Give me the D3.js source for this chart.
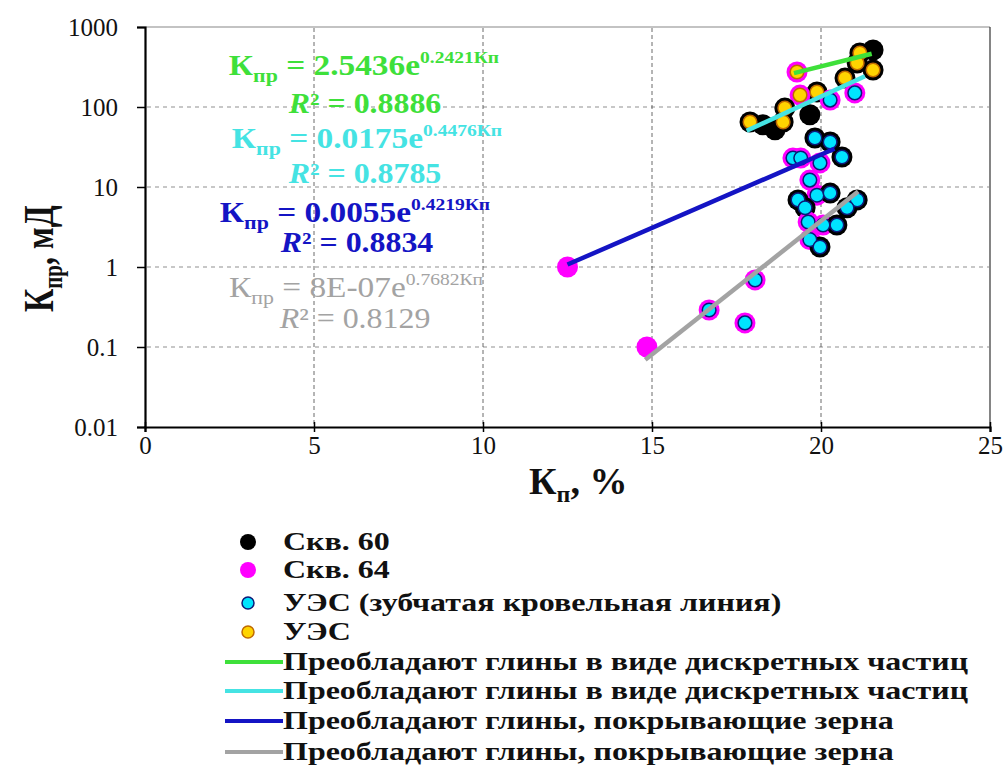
<!DOCTYPE html>
<html>
<head>
<meta charset="utf-8">
<script src="https://cdn.jsdelivr.net/npm/d3@7"></script>
<style>
  body { margin: 0; background: #fff; }
  svg { display: block; }
  text { font-family: "Liberation Serif", "Times New Roman", serif; }
</style>
</head>
<body>
<div id="app"></div>
<script>
// samples: porosity, permeability, well, UES type
const kp = [19.29, 21.54, 21.15, 21.07, 21.54, 20.71, 21.0, 19.88, 20.27, 19.38, 18.93, 19.67, 17.9, 18.28, 18.64, 18.88,
  19.82, 20.27, 20.62, 19.17, 19.4, 19.97, 19.67, 19.88, 19.32, 20.27, 21.07, 20.77, 19.53, 19.62, 20.06, 20.47, 19.67, 19.97,
  12.5, 14.85, 16.69, 17.75, 18.05];
const kpr = [274, 516, 473, 355, 290, 230, 150, 154, 122, 141, 97, 80, 65, 60, 52, 65,
  41, 36.5, 23.7, 23, 23, 20, 12.2, 7.9, 6.9, 8.4, 6.9, 5.5, 5.5, 3.65, 3.35, 3.35, 2.2, 1.78,
  1.0, 0.1, 0.29, 0.2, 0.69];
const well = [64, 60, 60, 60, 60, 60, 64, 60, 64, 64, 60, 60, 60, 60, 60, 60,
  60, 60, 60, 64, 64, 64, 64, 64, 60, 60, 60, 60, 60, 64, 64, 60, 64, 60,
  64, 64, 64, 64, 64];
const ues = ["y", "", "y", "y", "y", "y", "c", "y", "c", "y", "y", "", "y", "", "", "y",
  "c", "c", "c", "c", "c", "c", "c", "c", "c", "c", "c", "c", "c", "c", "c", "c", "c", "c",
  "", "", "c", "c", "c"];

// trend lines  Kpr = a * exp(b * Kp)
const trendA = [2.5436, 0.0175, 0.0055, 8e-7];
const trendB = [0.2421, 0.4476, 0.4219, 0.7682];
const trendFrom = [19.2, 17.8, 12.5, 14.8];
const trendTo = [21.5, 21.3, 20.4, 21.1];
const trendAText = ["2.5436", "0.0175", "0.0055", "8E-07"];
const trendBText = ["0.2421", "0.4476", "0.4219", "0.7682"];
const trendR2 = ["0.8886", "0.8785", "0.8834", "0.8129"];

const xTicks = [0, 5, 10, 15, 20, 25];
const yTicks = [0.01, 0.1, 1, 10, 100, 1000];
const legendPoints = ["Скв. 60", "Скв. 64", "УЭС (зубчатая кровельная линия)", "УЭС"];
const legendLines = [
  "Преобладают глины в виде дискретных частиц",
  "Преобладают глины в виде дискретных частиц",
  "Преобладают глины, покрывающие зерна",
  "Преобладают глины, покрывающие зерна"
];

const trendColors = ["#3ee03a", "#45e3e3", "#1414c4", "#a3a3a3"];
const wellColors = { 60: "#000", 64: "#ff00ff" };
const uesFill = { c: "#00e4ff", y: "#ffd400" };
const uesStroke = { c: "#0c1a78", y: "#c06a00" };

const W = 1005, H = 772;
const svg = d3.select("#app").append("svg").attr("width", W).attr("height", H);
svg.append("rect").attr("width", W).attr("height", H).attr("fill", "#fff");

const x = d3.scaleLinear().domain([0, 25]).range([145, 990]);
const y = d3.scaleLog().domain([0.01, 1000]).range([427, 27]);

// grid
svg.append("g").selectAll("line").data(yTicks.slice(1, 5)).join("line")
  .attr("x1", 147).attr("x2", 989).attr("y1", y).attr("y2", y)
  .attr("stroke", "#b5b5b5").attr("stroke-width", 1.6).attr("stroke-dasharray", "4,4");
svg.append("g").selectAll("line").data(xTicks.slice(1, 5)).join("line")
  .attr("x1", x).attr("x2", x).attr("y1", 28).attr("y2", 426)
  .attr("stroke", "#444").attr("stroke-width", 0.8).attr("stroke-dasharray", "4,3");

// frame top / right
svg.append("line").attr("x1", 145).attr("x2", 990).attr("y1", 27).attr("y2", 27)
  .attr("stroke", "#888").attr("stroke-width", 1.2);
svg.append("line").attr("x1", 990).attr("x2", 990).attr("y1", 27).attr("y2", 427)
  .attr("stroke", "#333").attr("stroke-width", 1.2);

// axes
const yAxis = svg.append("g").attr("transform", "translate(145,0)")
  .call(d3.axisLeft(y).tickValues(yTicks).tickFormat((d) => String(d)).tickSize(8).tickPadding(19));
const xAxis = svg.append("g").attr("transform", "translate(0,427)")
  .call(d3.axisBottom(x).tickValues(xTicks).tickSize(5).tickPadding(4));
xAxis.selectAll(".tick line").attr("y1", -5);
[yAxis, xAxis].forEach((a) => {
  a.select(".domain").attr("stroke", "#000").attr("stroke-width", 2.2);
  a.selectAll(".tick line").attr("stroke", "#000").attr("stroke-width", 1.5);
  a.selectAll("text").attr("font-family", "Liberation Serif, serif").attr("font-size", 25).attr("fill", "#111");
});
yAxis.selectAll("text").attr("dy", "0.33em");
xAxis.selectAll("text").attr("dy", "0.71em");

// axis titles
const yt = svg.append("text").attr("transform", "translate(53,312) rotate(-90) scale(1,1.35)")
  .attr("font-size", 32).attr("font-weight", "bold").attr("fill", "#111");
yt.append("tspan").text("К");
yt.append("tspan").attr("font-size", 21).attr("dy", 7).text("пр");
yt.append("tspan").attr("dy", -7).text(", мД");

const xt = svg.append("text").attr("x", 529).attr("y", 494)
  .attr("font-size", 38).attr("font-weight", "bold").attr("fill", "#111");
xt.append("tspan").text("К");
xt.append("tspan").attr("font-size", 24).attr("dy", 8).text("п");
xt.append("tspan").attr("dy", -8).text(", %");

// points: wells first, then UES markers
const idx = d3.range(kp.length);
svg.append("g").selectAll("circle").data(idx).join("circle")
  .attr("cx", (i) => x(kp[i])).attr("cy", (i) => y(kpr[i])).attr("r", 10.5)
  .attr("fill", (i) => wellColors[well[i]]);
["c", "y"].forEach((t) => {
  svg.append("g").selectAll("circle").data(idx.filter((i) => ues[i] === t)).join("circle")
    .attr("cx", (i) => x(kp[i])).attr("cy", (i) => y(kpr[i])).attr("r", 6.8)
    .attr("fill", uesFill[t]).attr("stroke", uesStroke[t]).attr("stroke-width", 1.5);
});

// trend lines
const line = d3.line().x((d) => x(d[0])).y((d) => y(d[1]));
trendA.forEach((a, k) => {
  const pts = [trendFrom[k], trendTo[k]].map((v) => [v, a * Math.exp(trendB[k] * v)]);
  svg.append("path").attr("d", line(pts)).attr("fill", "none")
    .attr("stroke", trendColors[k]).attr("stroke-width", 4.5);
});

// equations
const eqX = [364, 367, 355, 356];
const eqY = [75, 148, 222, 297];
const r2X = [365, 365, 357, 355];
const r2Y = [113, 183, 252, 328];
const eqWeight = ["bold", "bold", "bold", "normal"];
trendA.forEach((a, k) => {
  const s = 29;
  const t = svg.append("text").attr("transform", `translate(${eqX[k]},${eqY[k]}) scale(1.15,1)`)
    .attr("text-anchor", "middle")
    .attr("font-size", s).attr("font-weight", eqWeight[k]).attr("fill", trendColors[k]);
  t.append("tspan").text("К");
  t.append("tspan").attr("font-size", 19).attr("dy", 7).text("пр");
  t.append("tspan").attr("dy", -7).text(" = " + trendAText[k] + "e");
  t.append("tspan").attr("font-size", 17).attr("dy", -12).text(trendBText[k] + "Кп");

  const r = svg.append("text").attr("transform", `translate(${r2X[k]},${r2Y[k]}) scale(1.1,1)`)
    .attr("text-anchor", "middle")
    .attr("font-size", s).attr("font-weight", eqWeight[k]).attr("fill", trendColors[k]);
  r.append("tspan").attr("font-style", "italic").text("R");
  r.append("tspan").text("² = " + trendR2[k]);
});

// legend
const lg = svg.append("g");
const rowY = [542, 570, 603, 632, 662, 691, 721, 752];
legendPoints.forEach((name, k) => {
  if (k < 2) {
    lg.append("circle").attr("cx", 248).attr("cy", rowY[k]).attr("r", 8)
      .attr("fill", wellColors[k === 0 ? 60 : 64]);
  } else {
    const t = k === 2 ? "c" : "y";
    lg.append("circle").attr("cx", 248).attr("cy", rowY[k]).attr("r", 6)
      .attr("fill", uesFill[t]).attr("stroke", uesStroke[t]).attr("stroke-width", 1.5);
  }
});
legendLines.forEach((name, k) => {
  lg.append("line").attr("x1", 225).attr("x2", 283).attr("y1", rowY[k + 4]).attr("y2", rowY[k + 4])
    .attr("stroke", trendColors[k]).attr("stroke-width", 4);
});
legendPoints.concat(legendLines).forEach((name, k) => {
  lg.append("text").attr("transform", `translate(283,${rowY[k] + 8}) scale(1.28,1)`)
    .attr("font-size", 25).attr("font-weight", "bold").attr("fill", "#111").text(name);
});
</script>
</body>
</html>
